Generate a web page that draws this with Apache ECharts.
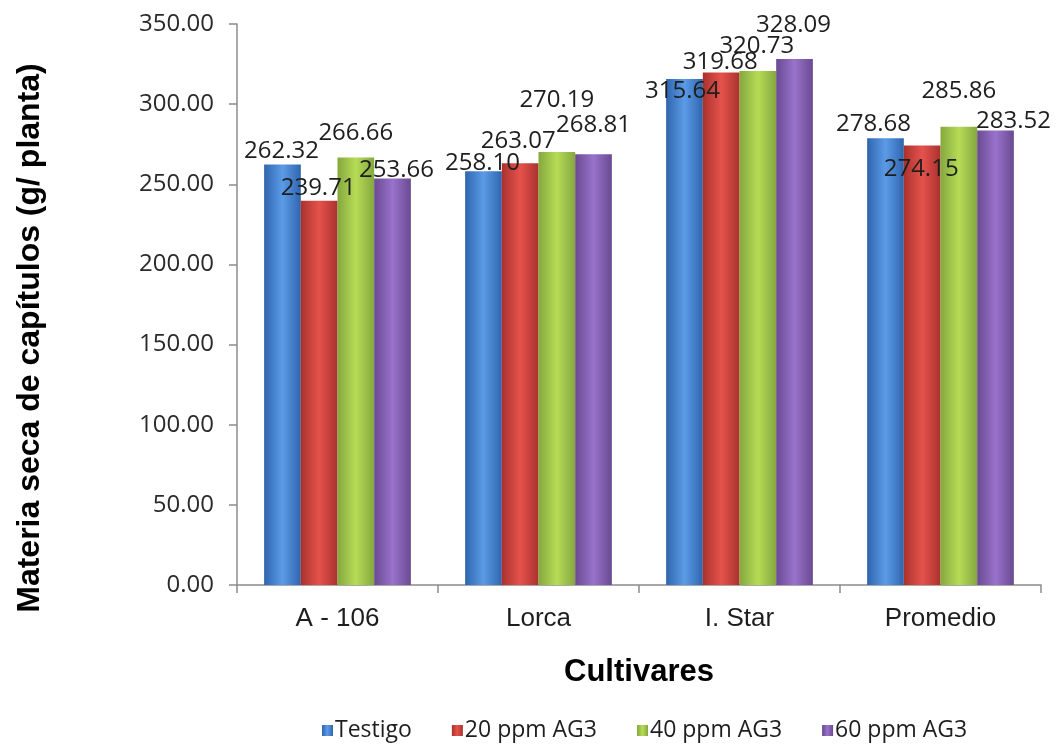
<!DOCTYPE html>
<html>
<head>
<meta charset="utf-8">
<title>Materia seca de capítulos</title>
<script src="https://cdn.jsdelivr.net/npm/echarts@6/dist/echarts.min.js"></script>
<style>
  html, body { margin: 0; padding: 0; background: #ffffff; }
  #chart { width: 1060px; height: 744px; }
</style>
</head>
<body>
<div id="chart"></div>
<script>
// Cultivars on the category axis
const categories = ['A - 106', 'Lorca', 'I. Star', 'Promedio'];

// Dry matter of flower heads (g/plant) per treatment
const seriesNames = ['Testigo', '20 ppm AG3', '40 ppm AG3', '60 ppm AG3'];
const testigo = [262.32, 258.10, 315.64, 278.68];
const ppm20   = [239.71, 263.07, 319.68, 274.15];
const ppm40   = [266.66, 270.19, 320.73, 285.86];
const ppm60   = [253.66, 268.81, 328.09, 283.52];

// Value axis ticks
const yMin = 0, yMax = 350, yStep = 50;

// Label placement around each bar top: [dx, dy] of label centre
const labelShift = [
  [[-1, -13], [-1, -8], [-2, 12], [-12, -14]],
  [[-1, -13], [-2, -22], [-1, -10], [-1, 24]],
  [[0, -24], [0, -52], [-1, -25], [0, -36]],
  [[4, -8], [0, -29], [-1, -34], [18, -9]]
];

// Bevelled look: dark edges, bright centre
const palette = [
  ['#2f64a8', '#5b9be6', '#3a72bd'],
  ['#a9302c', '#e5524c', '#b83a35'],
  ['#86a83a', '#b6dc55', '#90b445'],
  ['#6a4a93', '#9a72cc', '#74549f']
];

function barColor(c) {
  return new echarts.graphic.LinearGradient(0, 0, 1, 0, [
    { offset: 0, color: c[0] },
    { offset: 0.12, color: c[2] },
    { offset: 0.5, color: c[1] },
    { offset: 0.88, color: c[2] },
    { offset: 1, color: c[0] }
  ]);
}

const valueSets = [testigo, ppm20, ppm40, ppm60];
const labelFont = '"Open Sans", "Noto Sans", sans-serif';
const axisFont = '"Liberation Sans", Arial, sans-serif';

const series = valueSets.map((vals, si) => ({
  name: seriesNames[si],
  type: 'bar',
  barGap: '0%',
  barCategoryGap: '27%',
  itemStyle: { color: barColor(palette[si]) },
  data: vals.map((v, ci) => ({
    value: v,
    label: {
      show: true,
      position: 'top',
      distance: 0,
      verticalAlign: 'middle',
      align: 'center',
      offset: labelShift[si][ci],
      formatter: (p) => p.value.toFixed(2),
      fontFamily: labelFont,
      fontSize: 24,
      color: '#1e1e1e'
    }
  }))
}));

const chart = echarts.init(document.getElementById('chart'), null, { renderer: 'canvas' });

chart.setOption({
  backgroundColor: '#ffffff',
  animation: false,
  color: palette.map(c => c[1]),
  grid: { left: 237, right: 19, top: 24, bottom: 159, containLabel: false },
  legend: {
    data: seriesNames,
    bottom: 2,
    left: 322,
    padding: 0,
    icon: 'rect',
    itemWidth: 11,
    itemHeight: 11,
    itemGap: 40,
    textStyle: { fontFamily: labelFont, fontSize: 23, color: '#1e1e1e', padding: [0, 0, 0, -3] }
  },
  xAxis: {
    type: 'category',
    data: categories,
    name: 'Cultivares',
    nameLocation: 'middle',
    nameGap: 72,
    nameTextStyle: { fontFamily: axisFont, fontSize: 31, fontWeight: 'bold', color: '#000' },
    axisLine: { lineStyle: { color: '#8c8c8c', width: 1.5 } },
    axisTick: { show: true, length: 8, alignWithLabel: false, lineStyle: { color: '#8c8c8c', width: 1.5 } },
    axisLabel: { margin: 21, fontFamily: axisFont, fontSize: 26, color: '#1e1e1e' },
    splitLine: { show: false }
  },
  yAxis: {
    type: 'value',
    min: yMin,
    max: yMax,
    interval: yStep,
    axisLine: { show: true, lineStyle: { color: '#8c8c8c', width: 1.5 } },
    axisTick: { show: true, length: 8, inside: false, lineStyle: { color: '#8c8c8c', width: 1.5 } },
    axisLabel: {
      margin: 23,
      fontFamily: labelFont,
      fontSize: 24,
      color: '#2a2a2a',
      formatter: (v) => v.toFixed(2)
    },
    splitLine: { show: false }
  },
  graphic: [{
    type: 'text',
    x: 30,
    y: 338,
    rotation: Math.PI / 2,
    style: {
      text: 'Materia seca de capítulos (g/ planta)',
      font: 'bold 32px "Liberation Sans", Arial, sans-serif',
      fill: '#000',
      textAlign: 'center',
      textVerticalAlign: 'middle'
    }
  }],
  series: series
});
</script>
</body>
</html>
